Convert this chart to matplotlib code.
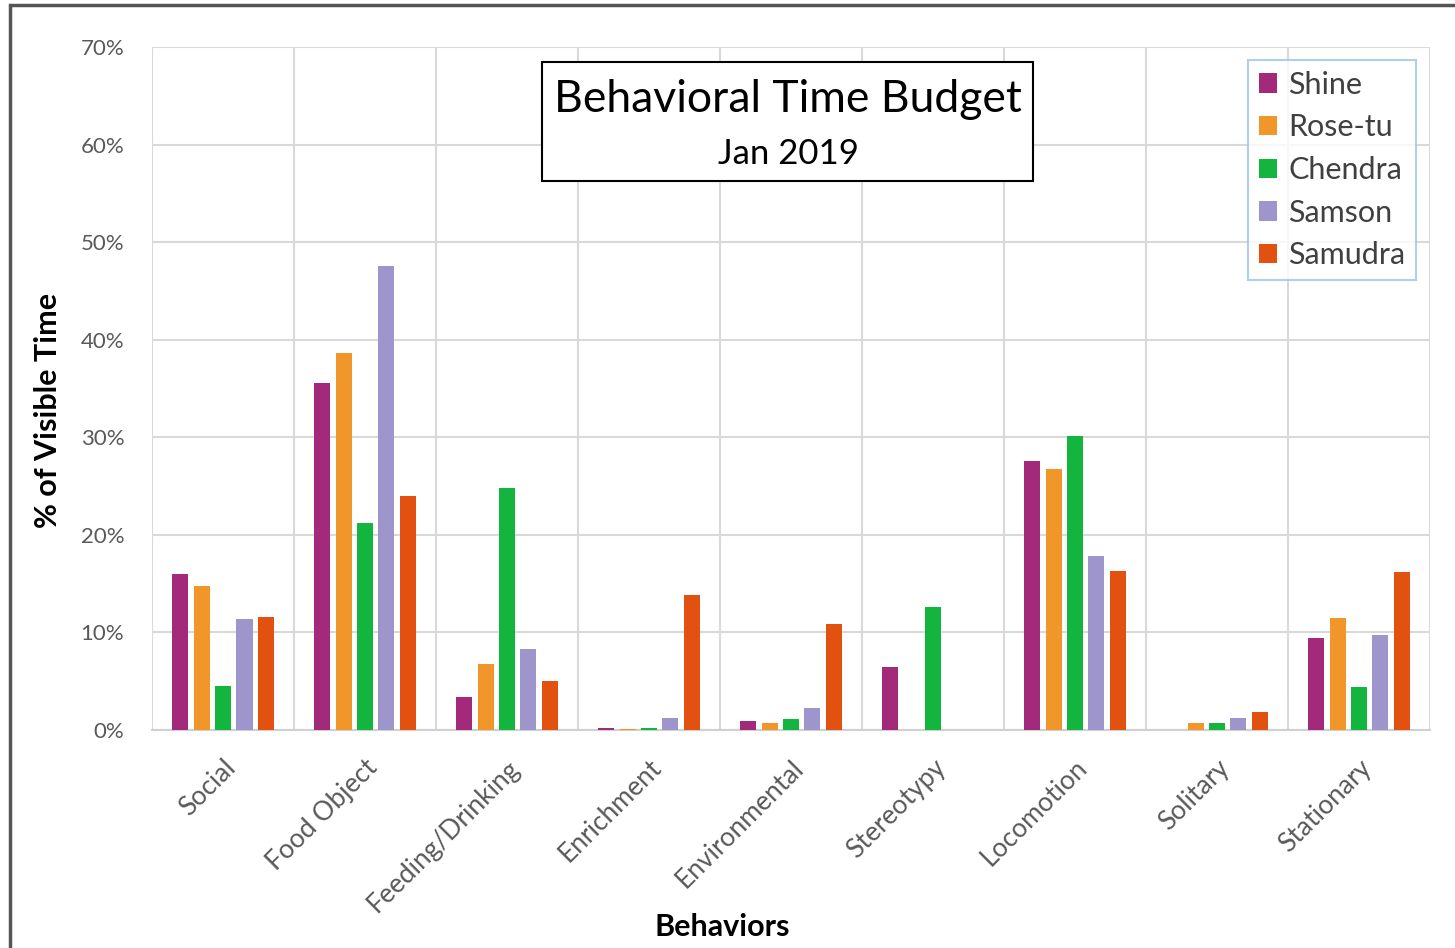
import matplotlib.pyplot as plt
import matplotlib.ticker as mticker
from matplotlib.patches import Rectangle
import numpy as np

plt.rcParams['font.family'] = ['Lato', 'DejaVu Sans']

behaviors = ['Social', 'Food Object', 'Feeding/Drinking', 'Enrichment', 'Environmental',
             'Stereotypy', 'Locomotion', 'Solitary', 'Stationary']
animals = ['Shine', 'Rose-tu', 'Chendra', 'Samson', 'Samudra']

shine   = [16.0, 35.6, 3.4, 0.25, 0.9, 6.5, 27.6, 0.0, 9.4]
rose_tu = [14.8, 38.6, 6.8, 0.1, 0.7, 0.0, 26.7, 0.7, 11.5]
chendra = [4.5, 21.2, 24.8, 0.25, 1.1, 12.6, 30.1, 0.7, 4.4]
samson  = [11.4, 47.6, 8.3, 1.2, 2.3, 0.0, 17.8, 1.2, 9.7]
samudra = [11.6, 24.0, 5.0, 13.8, 10.9, 0.0, 16.3, 1.8, 16.2]
series = [shine, rose_tu, chendra, samson, samudra]
colors = ['#A3297A', '#F0962B', '#13B53E', '#9E95CC', '#E2510F']

fig = plt.figure(figsize=(14.55, 9.48), dpi=100)
ax = fig.add_axes([0.1045, 0.2300, 0.8783, 0.7204])

# outer frame of the figure
fig.patches.append(Rectangle((10 / 1455, -0.05), 1.1, 1 - 5 / 948 + 0.05,
                             transform=fig.transFigure, fill=False,
                             edgecolor='#555555', linewidth=2.5))

x = np.arange(len(behaviors))
step = 0.151
width = 0.113
for i, (name, vals) in enumerate(zip(animals, series)):
    ax.bar(x + (i - 2) * step, np.array(vals) / 100, width, color=colors[i],
           label=name, zorder=3)

ax.set_xlim(-0.5, len(behaviors) - 0.5)
ax.set_ylim(0, 0.70)
ax.yaxis.set_major_locator(mticker.MultipleLocator(0.10))
ax.yaxis.set_major_formatter(mticker.PercentFormatter(xmax=1, decimals=0))
ax.set_xticks(x)
ax.set_xticklabels(behaviors, rotation=45, ha='right', va='top',
                   rotation_mode='anchor', fontsize=19, color='#595959')
ax.set_xticks(np.arange(-0.5, len(behaviors)), minor=True)
ax.tick_params(axis='x', which='both', length=0, pad=18)
ax.tick_params(axis='y', length=0, labelsize=16, labelcolor='#595959', pad=20)

ax.grid(axis='y', which='major', color='#d9d9d9', linewidth=1.5, zorder=0)
ax.grid(axis='x', which='minor', color='#d9d9d9', linewidth=1.5, zorder=0)
for s in ['top', 'right', 'left']:
    ax.spines[s].set_visible(False)
ax.spines['bottom'].set_color('#d0d0d0')
ax.spines['bottom'].set_linewidth(1.5)

ax.set_ylabel('% of Visible Time', fontsize=22, fontweight='bold')
ax.yaxis.set_label_coords((48 - 152) / 1278, (730 - 410) / 683)
ax.set_xlabel('Behaviors', fontsize=22, fontweight='bold')
ax.xaxis.set_label_coords((722 - 152) / 1278, -(927 - 730) / 683)
ax.xaxis.label.set_va('center')
ax.yaxis.label.set_va('center')

# title box
fig.patches.append(Rectangle((542 / 1455, 1 - 181 / 948), 491 / 1455, 119 / 948,
                             transform=fig.transFigure, facecolor='white',
                             edgecolor='black', linewidth=1.5, zorder=5))
fig.text(788 / 1455, 1 - 100 / 948, 'Behavioral Time Budget', fontsize=32,
         ha='center', va='center', zorder=6)
fig.text(788 / 1455, 1 - 154 / 948, 'Jan 2019', fontsize=25,
         ha='center', va='center', zorder=6)

leg = ax.legend(loc='upper right', bbox_to_anchor=(1416 / 1455, 1 - 60 / 948),
                bbox_transform=fig.transFigure, borderaxespad=0, fontsize=22,
                frameon=True, fancybox=False, edgecolor='#9dc3e6',
                handlelength=0.6, handleheight=0.6, handletextpad=0.35,
                labelspacing=0.48, borderpad=0.35, labelcolor='#404040')
leg.get_frame().set_linewidth(1.5)

fig.savefig('out.png', dpi=100)
